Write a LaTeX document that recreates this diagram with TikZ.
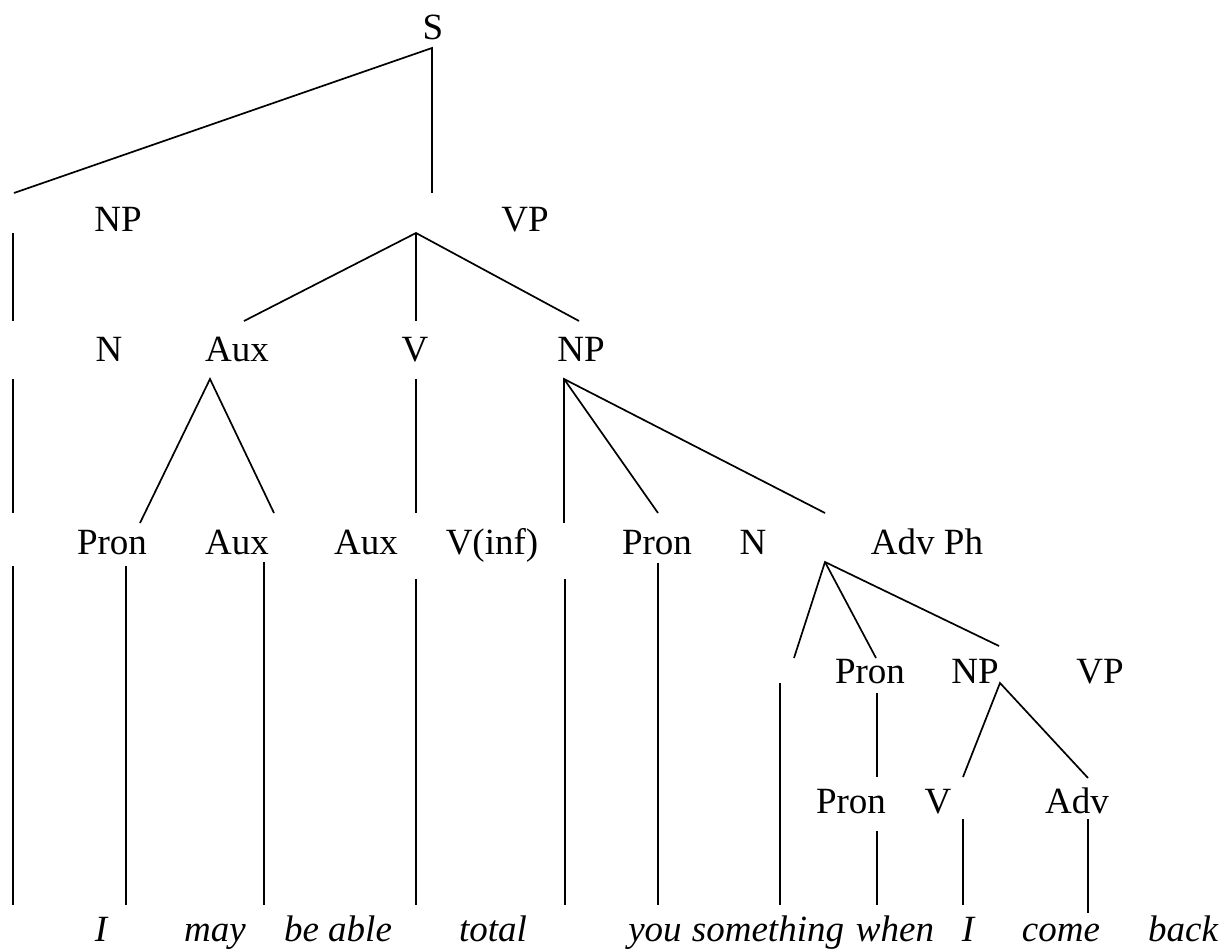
\documentclass[tikz,border=0pt]{standalone}
\usepackage{fontspec}
\setmainfont{Liberation Serif}
\usepackage{tikz}
\usetikzlibrary{positioning,calc}

\tikzset{
  cat/.style={anchor=base, inner sep=0pt, font=\fontsize{18.5}{22}\selectfont},
  word/.style={cat, font=\fontsize{18.5}{22}\selectfont\itshape},
  br/.style={line width=0.85pt, line cap=butt}
}

\begin{document}
\begin{tikzpicture}[x=0.5pt, y=-0.5pt]
    \useasboundingbox (0,0) rectangle (1221,951);

    % Category labels
    \node[cat] (S) at (433,40) {S};
    \node[cat] (np1) at (118,232) {NP};
    \node[cat] (vp1) at (525,232) {VP};
    \node[cat] (n1) at (109,362) {N};
    \node[cat] (aux1) at (237,362) {Aux};
    \node[cat] (v1) at (415,362) {V};
    \node[cat] (np2) at (581,362) {NP};
    \node[cat] (pron1) at (112,555) {Pron};
    \node[cat] (aux2) at (237,555) {Aux};
    \node[cat] (aux3) at (366,555) {Aux};
    \node[cat] (vinf) at (492,555) {V(inf)};
    \node[cat] (pron2) at (657,555) {Pron};
    \node[cat] (n2) at (753,555) {N};
    \node[cat] (advph) at (927,555) {Adv Ph};
    \node[cat] (pron3) at (870,683) {Pron};
    \node[cat] (np3) at (975,683) {NP};
    \node[cat] (vp2) at (1100,683) {VP};
    \node[cat] (pron4) at (851,813) {Pron};
    \node[cat] (v2) at (938,813) {V};
    \node[cat] (adv) at (1077,813) {Adv};

    % Words
    \node[word] (wI) at (101,941) {I};
    \node[word] (wmay) at (215,941) {may};
    \node[word] (wable) at (338,941) {be able};
    \node[word] (wtotal) at (493,941) {total};
    \node[word] (wyou) at (655,941) {you};
    \node[word] (wsome) at (768,941) {something};
    \node[word] (wwhen) at (895,941) {when};
    \node[word] (wI2) at (968,941) {I};
    \node[word] (wcome) at (1061,941) {come};
    \node[word] (wback) at (1183,941) {back};

    % Branch points
    \coordinate (sTop) at (432,48);
    \coordinate (vpTop) at (416,233);
    \coordinate (auxTop) at (210,379);
    \coordinate (npTop) at (564,379);
    \coordinate (advTop) at (825,562);
    \coordinate (np3Top) at (1000,683);

    % Branches
    \coordinate (sL) at (14,193);
    \coordinate (sR) at (432,193);
    \draw[br] (sL) -- (sTop) -- (sR);

    \coordinate (vpL) at (244,321);
    \coordinate (vpM) at (416,321);
    \coordinate (vpR) at (579,321);
    \draw[br] (vpL) -- (vpTop) -- (vpR);
    \draw[br] (vpTop) -- (vpM);

    \coordinate (auxL) at (140,523);
    \coordinate (auxR) at (274,513);
    \draw[br] (auxL) -- (auxTop) -- (auxR);

    \coordinate (npL) at (564,523);
    \coordinate (npM) at (658,513);
    \coordinate (npR) at (825,513);
    \draw[br] (npL) -- (npTop) -- (npR);
    \draw[br] (npTop) -- (npM);

    \coordinate (advL) at (794,658);
    \coordinate (advM) at (876,658);
    \coordinate (advR) at (999,646);
    \draw[br] (advL) -- (advTop) -- (advR);
    \draw[br] (advTop) -- (advM);

    \coordinate (np3L) at (963,777);
    \coordinate (np3R) at (1088,778);
    \draw[br] (np3L) -- (np3Top) -- (np3R);

    % Vertical lines
    \foreach \n/\x/\a/\b in {la/13/233/321, lb/13/379/513, vv/416/379/513,
        lc/13/566/905, pr/126/566/905, ax/264/562/905, vi/416/579/905,
        np/565/579/905, pn/658/563/905, so/780/683/905, pa/877/693/777,
        pb/877/831/905, vb/963/819/905, ad/1088/819/913} {
      \coordinate (\n-a) at (\x,\a);
      \coordinate (\n-b) at (\x,\b);
      \draw[br] (\n-a) -- (\n-b);
    }
\end{tikzpicture}
\end{document}
